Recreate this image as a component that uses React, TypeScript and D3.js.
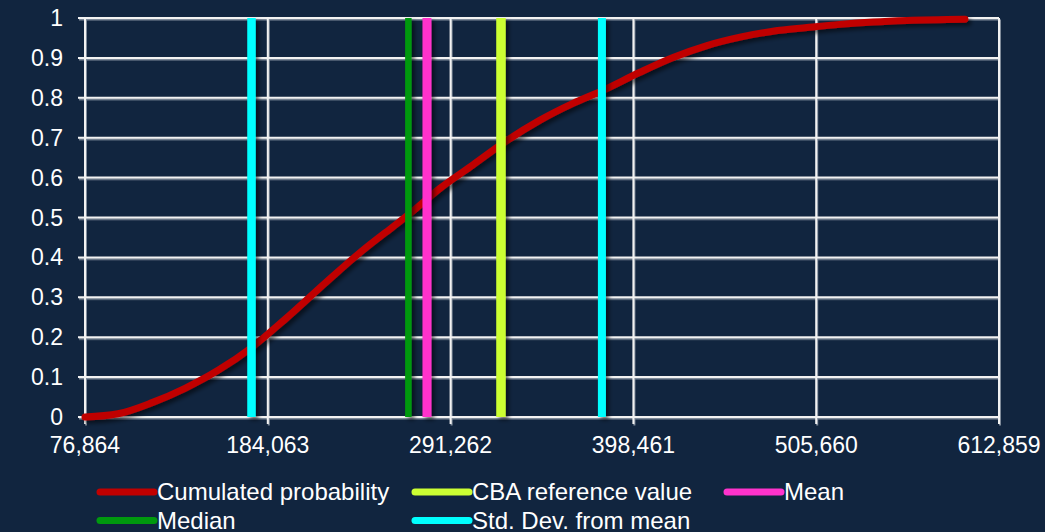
import React from "react";
import * as d3 from "d3";

// Cumulative probability curve (cost value -> probability)
const cdfValues = [
  76864, 96200, 116200, 135500, 154900, 174800, 194200, 218800, 238100, 257500,
  266300, 285000, 304400, 324300, 343700, 363000, 380200, 402300, 421700, 441600,
  461000, 480300, 500300, 519600, 539000, 558900, 592900,
];
const cdfProbs = [
  0, 0.008, 0.036, 0.072, 0.117, 0.175, 0.245, 0.34, 0.412, 0.477,
  0.506, 0.573, 0.632, 0.693, 0.744, 0.786, 0.818, 0.864, 0.901, 0.931,
  0.952, 0.967, 0.976, 0.984, 0.99, 0.994, 0.997,
];

// Reference markers
const median = 266500;
const mean = 277400;
const cbaReference = 320800;
const stdDevLow = 174500;
const stdDevHigh = 380000;

// Axis ticks
const xTicks = [76864, 184063, 291262, 398461, 505660, 612859];
const yTicks = [0, 0.1, 0.2, 0.3, 0.4, 0.5, 0.6, 0.7, 0.8, 0.9, 1];

const legendItems = [
  { label: "Cumulated probability", color: "#c00000" },
  { label: "CBA reference value", color: "#ccff33" },
  { label: "Mean", color: "#ff33cc" },
  { label: "Median", color: "#00990f" },
  { label: "Std. Dev. from mean", color: "#00ffff" },
];

const W = 1045;
const H = 532;
const BG = "#11253f";
const FONT = "'Liberation Sans', Arial, sans-serif";

export default function App() {
  const x = d3.scaleLinear().domain([76864, 612859]).range([85, 999]);
  const y = d3.scaleLinear().domain([0, 1]).range([417, 18]);

  const pts: [number, number][] = cdfValues.map((v, i) => [v, cdfProbs[i]]);
  const line = d3
    .line<[number, number]>()
    .x((d) => x(d[0]))
    .y((d) => y(d[1]))
    .curve(d3.curveMonotoneX);

  const markers = [
    { v: median, color: "#00990f", w: 6.5 },
    { v: mean, color: "#ff33cc", w: 9 },
    { v: cbaReference, color: "#ccff33", w: 9.5 },
    { v: stdDevLow, color: "#00ffff", w: 8.5 },
    { v: stdDevHigh, color: "#00ffff", w: 8 },
  ];

  const fmt = d3.format(",");
  const [x0, x1] = x.range();
  const [y0, y1] = y.range();

  // legend layout: two rows, three columns
  const colX = [100, 415, 727];
  const rowY = [492, 520.5];
  const legendPos = [
    [0, 0],
    [1, 0],
    [2, 0],
    [0, 1],
    [1, 1],
  ];

  return (
    <svg
      width={W}
      height={H}
      style={{ position: "absolute", left: 0, top: 0, display: "block" }}
    >
      <defs>
        <filter id="gridShadow" x="-5%" y="-5%" width="110%" height="110%">
          <feDropShadow dx="1" dy="1.5" stdDeviation="0.6" floodColor="#9aa4b0" floodOpacity="0.8" />
        </filter>
        <filter id="markShadow" x="-10%" y="-10%" width="130%" height="130%">
          <feDropShadow dx="3" dy="3" stdDeviation="2.2" floodColor="#000000" floodOpacity="0.55" />
        </filter>
      </defs>
      <rect x={0} y={0} width={W} height={H} fill={BG} />

      {/* grid */}
      <g filter="url(#gridShadow)" stroke="#f2f2f2" strokeWidth={2}>
        {yTicks.map((t) => (
          <line key={"h" + t} x1={x0 - 7} x2={x1} y1={y(t)} y2={y(t)} />
        ))}
        {xTicks.map((t) => (
          <line key={"v" + t} x1={x(t)} x2={x(t)} y1={y1} y2={y0 + 7} />
        ))}
      </g>

      {/* cumulative curve */}
      <path
        d={line(pts) || ""}
        fill="none"
        stroke="#c00000"
        strokeWidth={7}
        strokeLinecap="round"
        strokeLinejoin="round"
        filter="url(#markShadow)"
      />

      {/* markers */}
      <g filter="url(#markShadow)">
        {markers.map((m, i) => (
          <line
            key={i}
            x1={x(m.v)}
            x2={x(m.v)}
            y1={y(1)}
            y2={y(0)}
            stroke={m.color}
            strokeWidth={m.w}
          />
        ))}
      </g>

      {/* y labels */}
      <g fill="#ffffff" fontFamily={FONT} fontSize={23} textAnchor="end">
        {yTicks.map((t) => (
          <text key={t} x={63} y={y(t)} dy="0.35em">
            {d3.format("~g")(t)}
          </text>
        ))}
      </g>

      {/* x labels */}
      <g fill="#ffffff" fontFamily={FONT} fontSize={23} textAnchor="middle">
        {xTicks.map((t) => (
          <text key={t} x={x(t)} y={453}>
            {fmt(t)}
          </text>
        ))}
      </g>

      {/* legend */}
      <g fontFamily={FONT} fontSize={24} fill="#ffffff">
        {legendItems.map((it, i) => {
          const [c, r] = legendPos[i];
          const lx = colX[c];
          const ly = rowY[r];
          return (
            <g key={it.label}>
              <line
                x1={lx}
                x2={lx + 54}
                y1={ly}
                y2={ly}
                stroke={it.color}
                strokeWidth={7}
                strokeLinecap="round"
              />
              <text x={lx + 57} y={ly} dy="0.35em">
                {it.label}
              </text>
            </g>
          );
        })}
      </g>
    </svg>
  );
}
